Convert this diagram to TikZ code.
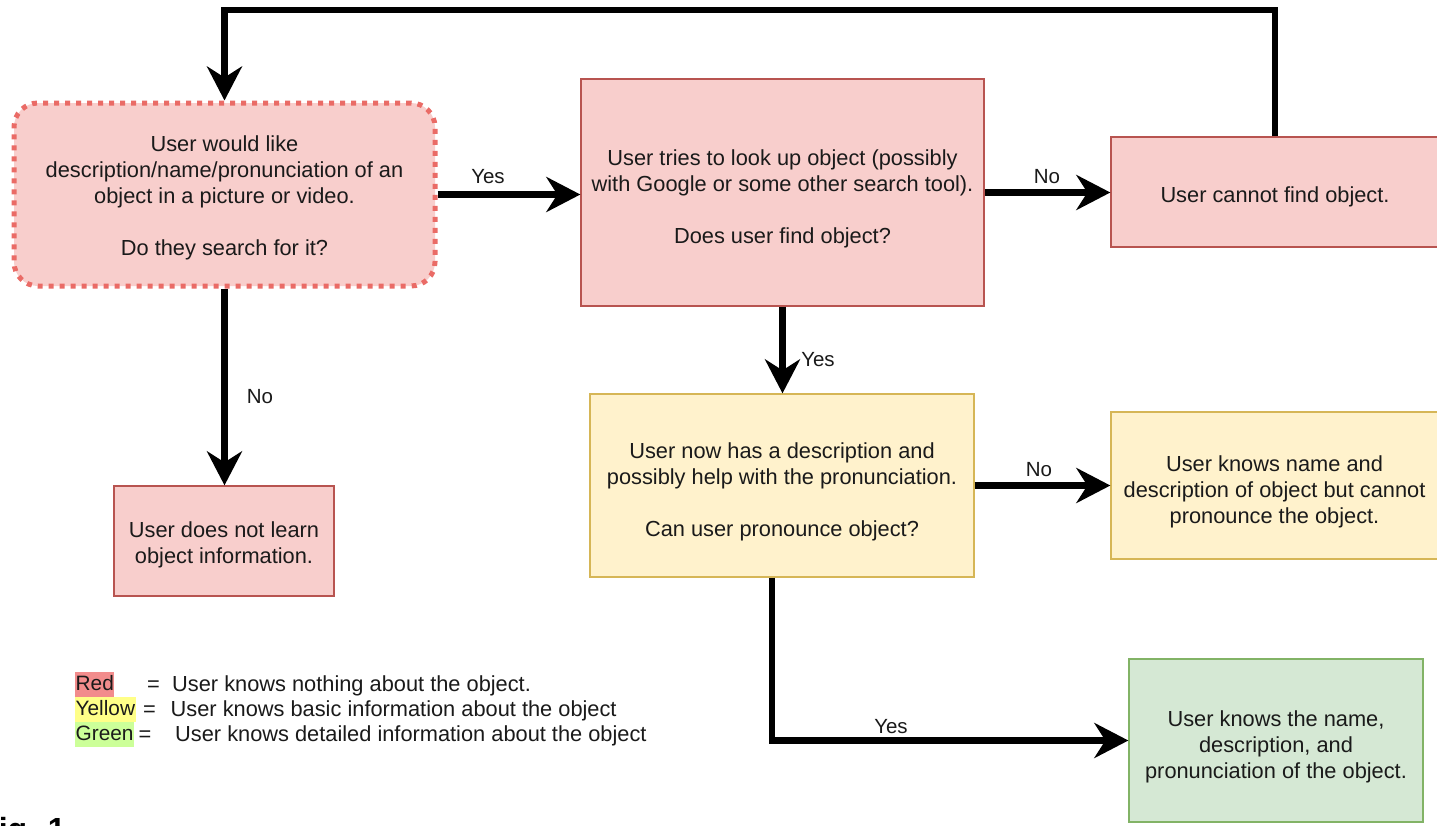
\documentclass[tikz,border=0pt]{standalone}
\usepackage{fontspec}
\setmainfont{Liberation Sans}
\usetikzlibrary{arrows.meta,calc}
\definecolor{redfill}{HTML}{F8CECC}
\definecolor{redline}{HTML}{B85450}
\definecolor{reddot}{HTML}{EA6B66}
\definecolor{yelfill}{HTML}{FFF2CC}
\definecolor{yelline}{HTML}{D6B656}
\definecolor{grnfill}{HTML}{D5E8D4}
\definecolor{grnline}{HTML}{82B366}
\definecolor{hlred}{HTML}{F28C8C}
\definecolor{hlyel}{HTML}{FFFF88}
\definecolor{hlgrn}{HTML}{CCFF99}
\definecolor{txt}{HTML}{1A1A1A}
\newcommand{\boxfont}{\fontsize{21.8}{26}\selectfont}
\newcommand{\legfont}{\fontsize{20.8}{25}\selectfont}
\newcommand{\lblfont}{\fontsize{20.5}{24}\selectfont}
% strut that lowers a box text a little, as the reference does
\newcommand{\tf}[1]{\rule{0pt}{#1pt}}
\tikzset{
  box/.style={rectangle, draw, line width=1.3pt, inner sep=0pt, align=center, text=txt, font=\boxfont},
  redbox/.style={box, fill=redfill, draw=redline},
  yelbox/.style={box, fill=yelfill, draw=yelline},
  grnbox/.style={box, fill=grnfill, draw=grnline},
  startbox/.style={box, fill=redfill, draw=reddot, line width=5pt, dash pattern=on 5pt off 6pt, rounded corners=24pt},
  conn/.style={line width=6.5pt, -{Stealth[length=34pt,width=35pt,inset=11pt]}, line join=miter},
  lbl/.style={font=\lblfont, text=txt, inner sep=0pt},
  legword/.style={font=\legfont, text=txt, inner xsep=0.5pt, inner ysep=2pt, text height=16pt, text depth=5pt, anchor=west},
  legtxt/.style={font=\boxfont, text=txt, inner sep=0pt, anchor=west},
}
\begin{document}
\begin{tikzpicture}[x=1pt,y=-1pt]
\useasboundingbox (0,0) rectangle (1437,825);
\fill[white] (0,0) rectangle (1437,825);

% boxes
\node[startbox, minimum width=421pt, minimum height=183pt] (A) at (224.5,194.5)
  {\tf{22}User would like\\description/name/pronunciation of an\\object in a picture or video.\\[26pt]Do they search for it?};
\node[redbox, minimum width=403pt, minimum height=227pt] (B) at (782.5,192.5)
  {\tf{28}User tries to look up object (possibly\\with Google or some other search tool).\\[26pt]Does user find object?};
\node[redbox, minimum width=328pt, minimum height=110pt] (C) at (1275,192)
  {\tf{26}User cannot find object.};
\node[redbox, minimum width=220pt, minimum height=110pt] (D) at (224,541)
  {\tf{24}User does not learn\\object information.};
\node[yelbox, minimum width=384pt, minimum height=183pt] (E) at (782,485.5)
  {\tf{28}User now has a description and\\possibly help with the pronunciation.\\[26pt]Can user pronounce object?};
\node[yelbox, minimum width=327pt, minimum height=147pt] (F) at (1274.5,485.5)
  {\tf{28}User knows name and\\description of object but cannot\\pronounce the object.};
\node[grnbox, minimum width=294pt, minimum height=163pt] (G) at (1276,740.5)
  {\tf{28}User knows the name,\\description, and\\pronunciation of the object.};

% connectors
\coordinate (loop) at (224.5,10);
\draw[conn] (A.east) -- (A.east -| B.west);
\draw[conn] (B.east) -- (B.east -| C.west);
\draw[conn] (C.north) |- (loop) -- (A.north);
\draw[conn] (A.south) -- (A.south |- D.north);
\draw[conn] (B.south) -- (B.south |- E.north);
\draw[conn] (E.east) -- (F.west);
\draw[conn] ([xshift=-10pt]E.south) |- (G.west);

% labels
\node[lbl] (l1) at (488,177) {Yes};
\node[lbl] (l2) at (1047,177) {No};
\node[lbl] (l3) at (260,397) {No};
\node[lbl] (l4) at (818,360) {Yes};
\node[lbl] (l5) at (1039,470) {No};
\node[lbl] (l6) at (891,727) {Yes};

% legend
\node[legword, fill=hlred] (lr) at (75,684.5) {Red};
\node[legword, fill=hlyel] (ly) at (75,709.5) {Yellow};
\node[legword, fill=hlgrn] (lg) at (75,734.5) {Green};
\node[legtxt] (e1) at (147,686) {=};
\node[legtxt] (e2) at (143,711) {=};
\node[legtxt] (e3) at (138.5,736) {=};
\node[legtxt] (t1) at (172,686) {User knows nothing about the object.};
\node[legtxt] (t2) at (170.5,711) {User knows basic information about the object};
\node[legtxt] (t3) at (175,736) {User knows detailed information about the object};

% figure caption (cut off at the bottom edge)
\begin{scope}
\clip (0,0) rectangle (1437,825);
\node[font=\bfseries\fontsize{32}{38}\selectfont, text=black, inner sep=0pt, anchor=base west] (fig) at (-21,840) {Fig. 1};
\end{scope}
\end{tikzpicture}
\end{document}
